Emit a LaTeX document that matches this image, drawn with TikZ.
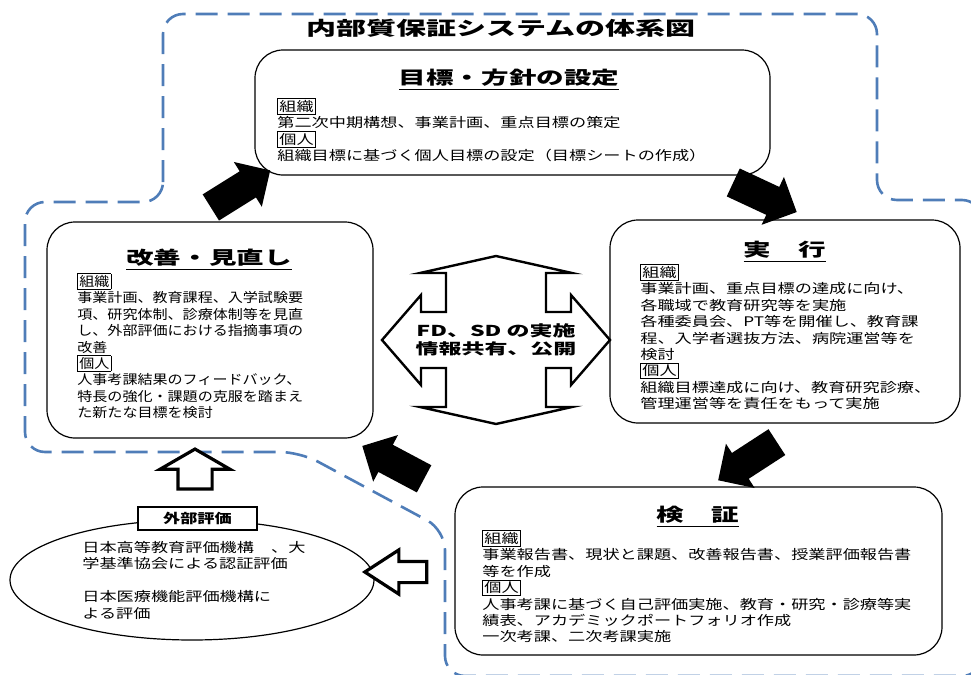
\documentclass[tikz,border=0pt]{standalone}
\usepackage{fontspec}
\usetikzlibrary{shapes.geometric,shapes.arrows,positioning}
\newfontfamily\bodyfont[FakeStretch=1.3]{Noto Sans CJK JP}
\newfontfamily\narrowfont[FakeStretch=1.14]{Noto Sans CJK JP}
\newfontfamily\headfont[FakeStretch=1.53]{Noto Sans CJK JP}
\newfontfamily\titlefont[FakeStretch=1.58]{Noto Sans CJK JP}
\definecolor{frameblue}{HTML}{4F7DB8}
\newcommand{\tagbox}[1]{{\setlength{\fboxsep}{0.6pt}\fbox{#1}}}
\newcommand{\bodysize}{\fontsize{6.6pt}{8.2pt}\selectfont\lineskiplimit=-10pt}
\tikzset{
  stage/.style={draw, fill=white, rounded corners=14pt, line width=0.6pt},
  heading/.style={font=\headfont\bfseries\fontsize{9pt}{11pt}\selectfont},
  body/.style={font=\bodyfont\bodysize, align=left, inner sep=0pt, anchor=north west},
  bigarrow/.style={single arrow, fill=black, inner xsep=0pt, inner ysep=7.5pt,
    single arrow head extend=5.5pt, minimum height=35pt},
  openarrow/.style={single arrow, draw, fill=white, line width=1.6pt, inner xsep=0pt},
  frame/.style={draw=frameblue, line width=1.3pt, dash pattern=on 11pt off 5pt,
    rounded corners=10pt}
}
\begin{document}
\begin{tikzpicture}[x=0.5pt, y=-0.5pt]
\useasboundingbox (0,0) rectangle (971,675);

% dashed outline
\begin{scope}
  \clip (0,0) rectangle (971,675);
  \draw[frame] (163,202) -- (163,14) -- (877,14) -- (877,200) -- (982,200)
    -- (982,676) -- (445,676) -- (445,530) -- (300,452) -- (25,452)
    -- (25,202) -- cycle;
\end{scope}

\node[font=\titlefont\bfseries\fontsize{9.5pt}{11pt}\selectfont] (title) at (501,28) {内部質保証システムの体系図};

% stages
\node[stage, minimum width=257.5pt, minimum height=62.5pt] (goal) at (512.5,112.5) {};
\node[heading] (goalhead) at (509,80) {\underline{目標・方針の設定}};
\node[body] (goaltext) at (277,98) {\tagbox{組織}\\
  第二次中期構想、事業計画、重点目標の策定\\
  \tagbox{個人}\\
  組織目標に基づく個人目標の設定（目標シートの作成）};

\node[stage, minimum width=163pt, minimum height=108pt] (improve) at (210,330) {};
\node[heading] (improvehead) at (209,260) {\underline{改善・見直し}};
\node[body, font=\narrowfont\bodysize] (improvetext) at (77,273) {\tagbox{組織}\\
  事業計画、教育課程、入学試験要\\
  項、研究体制、診療体制等を見直\\
  し、外部評価における指摘事項の\\
  改善\\
  \tagbox{個人}\\
  人事考課結果のフィードバック、\\
  特長の強化・課題の克服を踏まえ\\
  た新たな目標を検討};

\node[stage, minimum width=175pt, minimum height=101.5pt] (exec) at (785,321.5) {};
\node[heading] (exechead) at (785,252) {\underline{実　行}};
\node[body] (exectext) at (640,264) {\tagbox{組織}\\
  事業計画、重点目標の達成に向け、\\
  各職域で教育研究等を実施\\
  各種委員会、PT等を開催し、教育課\\
  程、入学者選抜方法、病院運営等を\\
  検討\\
  \tagbox{個人}\\
  組織目標達成に向け、教育研究診療、\\
  管理運営等を責任をもって実施};

\node[stage, minimum width=243.5pt, minimum height=84pt] (verify) at (698.5,571) {};
\node[heading] (verifyhead) at (698,517) {\underline{検　証}};
\node[body] (verifytext) at (482,530) {\tagbox{組織}\\
  事業報告書、現状と課題、改善報告書、授業評価報告書\\
  等を作成\\
  \tagbox{個人}\\
  人事考課に基づく自己評価実施、教育・研究・診療等実\\
  績表、アカデミックポートフォリオ作成\\
  一次考課、二次考課実施};

% external evaluation
\node[draw, ellipse, line width=0.6pt, inner sep=0pt, minimum width=182pt, minimum height=60pt] (outer) at (192,580) {};
\node[draw, fill=white, line width=0.6pt, minimum width=59.5pt, minimum height=11.5pt, inner sep=0pt,
  font=\bodyfont\bodysize\bfseries] (outerhead) at (197.5,518.5) {外部評価};
\node[body] (outertext) at (82,541) {日本高等教育評価機構　、大\\
  学基準協会による認証評価\\
  \\
  日本医療機能評価機構に\\
  よる評価};

% cycle arrows
\node[bigarrow, rotate=32] (a1) at (234,193) {};
\node[bigarrow, rotate=-25] (a2) at (758,194) {};
\node[bigarrow, rotate=213] (a3) at (754,457) {};
\node[bigarrow, rotate=152] (a4) at (400,466) {};

% open arrows
\node[openarrow, rotate=90, minimum height=20pt, inner ysep=7.75pt,
  single arrow head extend=9pt, single arrow tip angle=120] (up) at (195,474) {};
\node[openarrow, rotate=180, minimum height=31pt, inner ysep=4.5pt,
  single arrow head extend=5.75pt, single arrow tip angle=66] (left) at (404,572) {};

% FD / SD
\draw[line width=1.2pt, fill=white] (496,256) -- (572,273) -- (546,273) -- (546,312)
  -- (571,312) -- (571,295) -- (610,340) -- (571,385) -- (571,368) -- (546,368)
  -- (546,407) -- (572,407) -- (496,424) -- (420,407) -- (446,407) -- (446,368)
  -- (421,368) -- (421,385) -- (382,340) -- (421,295) -- (421,312) -- (446,312)
  -- (446,273) -- (420,273) -- cycle;
\node[font=\headfont\bfseries\fontsize{7.5pt}{9pt}\selectfont, align=center] (share) at (496,340)
  {FD、SD の実施\\情報共有、公開};
\end{tikzpicture}
\end{document}
